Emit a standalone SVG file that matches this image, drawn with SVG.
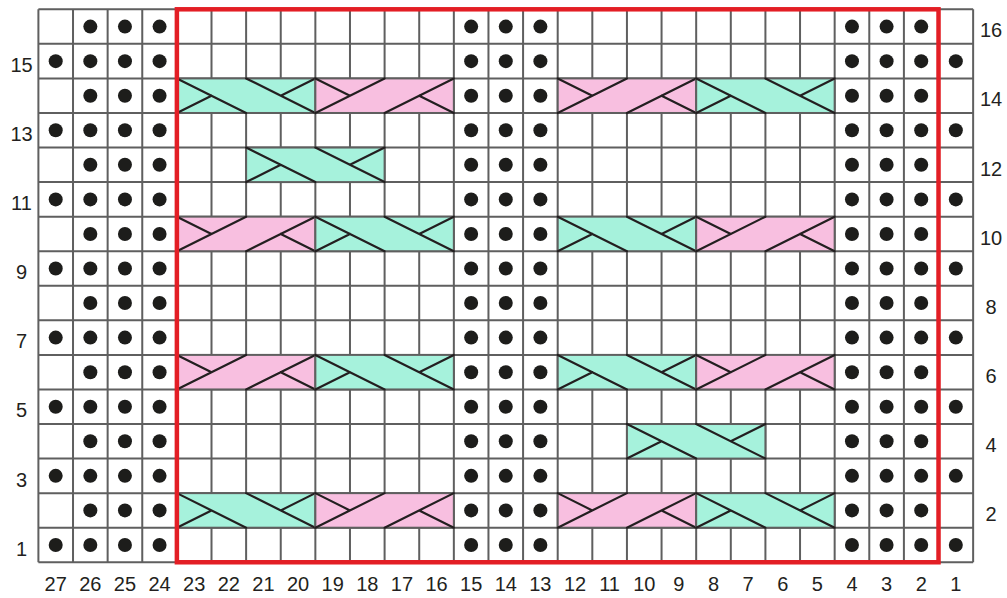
<svg xmlns="http://www.w3.org/2000/svg" xmlns:xlink="http://www.w3.org/1999/xlink" width="1007" height="598" viewBox="0 0 1007 598">
<style>
.grid{fill:none;stroke:#5f5f5f;stroke-width:2}
.dot{fill:#1d1d1b}
.lbl{font-family:"Liberation Sans",Arial,sans-serif;font-size:20px;fill:#231f20;text-anchor:middle}
.teal{fill:#a6f2dc;stroke:#5f5f5f;stroke-width:2}
.pink{fill:#f8bfe0;stroke:#5f5f5f;stroke-width:2}
.cx{fill:none;stroke:#231f20;stroke-width:2.2;stroke-linecap:round}
.frame{fill:none;stroke:#e31e25;stroke-width:4.5}
</style>
<defs>
<g id="dotsEven">
<circle class="dot" cx="90.33" cy="0" r="7"/><circle class="dot" cx="124.95" cy="0" r="7"/><circle class="dot" cx="159.57" cy="0" r="7"/>
<circle class="dot" cx="471.15" cy="0" r="7"/><circle class="dot" cx="505.77" cy="0" r="7"/><circle class="dot" cx="540.39" cy="0" r="7"/>
<circle class="dot" cx="851.97" cy="0" r="7"/><circle class="dot" cx="886.59" cy="0" r="7"/><circle class="dot" cx="921.21" cy="0" r="7"/>
</g>
<g id="dotsOdd">
<use xlink:href="#dotsEven" href="#dotsEven"/>
<circle class="dot" cx="55.71" cy="0" r="7"/><circle class="dot" cx="955.83" cy="0" r="7"/>
</g>
<g id="cableTeal">
<rect class="teal" x="0" y="0" width="138.48" height="34.56"/>
<path class="cx" d="M0 0L69.24 34.56M0 34.56L34.62 17.28M69.24 0L138.48 34.56M138.48 0L103.86 17.28"/>
</g>
<g id="cablePink">
<rect class="pink" x="0" y="0" width="138.48" height="34.56"/>
<path class="cx" d="M0 34.56L69.24 0M0 0L34.62 17.28M69.24 34.56L138.48 0M138.48 34.56L103.86 17.28"/>
</g>
</defs>
<rect width="1007" height="598" fill="#ffffff"/>
<g id="grid">
<rect x="38.4" y="9.3" width="934.74" height="552.96" fill="#ffffff"/>
<path class="grid" d="M38.4 9.3V562.26M73.02 9.3V562.26M107.64 9.3V562.26M142.26 9.3V562.26M176.88 9.3V562.26M211.5 9.3V562.26M246.12 9.3V562.26M280.74 9.3V562.26M315.36 9.3V562.26M349.98 9.3V562.26M384.6 9.3V562.26M419.22 9.3V562.26M453.84 9.3V562.26M488.46 9.3V562.26M523.08 9.3V562.26M557.7 9.3V562.26M592.32 9.3V562.26M626.94 9.3V562.26M661.56 9.3V562.26M696.18 9.3V562.26M730.8 9.3V562.26M765.42 9.3V562.26M800.04 9.3V562.26M834.66 9.3V562.26M869.28 9.3V562.26M903.9 9.3V562.26M938.52 9.3V562.26M973.14 9.3V562.26
M38.4 9.3H973.14M38.4 43.86H973.14M38.4 78.42H973.14M38.4 112.98H973.14M38.4 147.54H973.14M38.4 182.1H973.14M38.4 216.66H973.14M38.4 251.22H973.14M38.4 285.78H973.14M38.4 320.34H973.14M38.4 354.9H973.14M38.4 389.46H973.14M38.4 424.02H973.14M38.4 458.58H973.14M38.4 493.14H973.14M38.4 527.7H973.14M38.4 562.26H973.14"/>
</g>
<g id="purls">
<use href="#dotsEven" xlink:href="#dotsEven" y="26.58"/>
<use href="#dotsOdd" xlink:href="#dotsOdd" y="61.14"/>
<use href="#dotsEven" xlink:href="#dotsEven" y="95.7"/>
<use href="#dotsOdd" xlink:href="#dotsOdd" y="130.26"/>
<use href="#dotsEven" xlink:href="#dotsEven" y="164.82"/>
<use href="#dotsOdd" xlink:href="#dotsOdd" y="199.38"/>
<use href="#dotsEven" xlink:href="#dotsEven" y="233.94"/>
<use href="#dotsOdd" xlink:href="#dotsOdd" y="268.5"/>
<use href="#dotsEven" xlink:href="#dotsEven" y="303.06"/>
<use href="#dotsOdd" xlink:href="#dotsOdd" y="337.62"/>
<use href="#dotsEven" xlink:href="#dotsEven" y="372.18"/>
<use href="#dotsOdd" xlink:href="#dotsOdd" y="406.74"/>
<use href="#dotsEven" xlink:href="#dotsEven" y="441.3"/>
<use href="#dotsOdd" xlink:href="#dotsOdd" y="475.86"/>
<use href="#dotsEven" xlink:href="#dotsEven" y="510.42"/>
<use href="#dotsOdd" xlink:href="#dotsOdd" y="544.98"/>
</g>
<g id="cables">
<use href="#cableTeal" xlink:href="#cableTeal" x="176.88" y="78.42"/>
<use href="#cablePink" xlink:href="#cablePink" x="315.36" y="78.42"/>
<use href="#cablePink" xlink:href="#cablePink" x="557.7" y="78.42"/>
<use href="#cableTeal" xlink:href="#cableTeal" x="696.18" y="78.42"/>
<use href="#cableTeal" xlink:href="#cableTeal" x="246.12" y="147.54"/>
<use href="#cablePink" xlink:href="#cablePink" x="176.88" y="216.66"/>
<use href="#cableTeal" xlink:href="#cableTeal" x="315.36" y="216.66"/>
<use href="#cableTeal" xlink:href="#cableTeal" x="557.7" y="216.66"/>
<use href="#cablePink" xlink:href="#cablePink" x="696.18" y="216.66"/>
<use href="#cablePink" xlink:href="#cablePink" x="176.88" y="354.9"/>
<use href="#cableTeal" xlink:href="#cableTeal" x="315.36" y="354.9"/>
<use href="#cableTeal" xlink:href="#cableTeal" x="557.7" y="354.9"/>
<use href="#cablePink" xlink:href="#cablePink" x="696.18" y="354.9"/>
<use href="#cableTeal" xlink:href="#cableTeal" x="626.94" y="424.02"/>
<use href="#cableTeal" xlink:href="#cableTeal" x="176.88" y="493.14"/>
<use href="#cablePink" xlink:href="#cablePink" x="315.36" y="493.14"/>
<use href="#cablePink" xlink:href="#cablePink" x="557.7" y="493.14"/>
<use href="#cableTeal" xlink:href="#cableTeal" x="696.18" y="493.14"/>
</g>
<g id="repeat-frame">
<rect class="frame" x="176.88" y="9.3" width="761.64" height="552.96"/>
</g>
<g id="row-labels-left">
<text class="lbl" x="21.5" y="71.8">15</text>
<text class="lbl" x="21.5" y="140.9">13</text>
<text class="lbl" x="21.5" y="210">11</text>
<text class="lbl" x="21.5" y="279.2">9</text>
<text class="lbl" x="21.5" y="348.3">7</text>
<text class="lbl" x="21.5" y="417.4">5</text>
<text class="lbl" x="21.5" y="486.5">3</text>
<text class="lbl" x="21.5" y="555.7">1</text>
</g>
<g id="row-labels-right">
<text class="lbl" x="991" y="37.2">16</text>
<text class="lbl" x="991" y="106.4">14</text>
<text class="lbl" x="991" y="175.5">12</text>
<text class="lbl" x="991" y="244.6">10</text>
<text class="lbl" x="991" y="313.7">8</text>
<text class="lbl" x="991" y="382.9">6</text>
<text class="lbl" x="991" y="452">4</text>
<text class="lbl" x="991" y="521.1">2</text>
</g>
<g id="col-labels">
<text class="lbl" x="55.71" y="591">27</text>
<text class="lbl" x="90.33" y="591">26</text>
<text class="lbl" x="124.95" y="591">25</text>
<text class="lbl" x="159.57" y="591">24</text>
<text class="lbl" x="194.19" y="591">23</text>
<text class="lbl" x="228.81" y="591">22</text>
<text class="lbl" x="263.43" y="591">21</text>
<text class="lbl" x="298.05" y="591">20</text>
<text class="lbl" x="332.67" y="591">19</text>
<text class="lbl" x="367.29" y="591">18</text>
<text class="lbl" x="401.91" y="591">17</text>
<text class="lbl" x="436.53" y="591">16</text>
<text class="lbl" x="471.15" y="591">15</text>
<text class="lbl" x="505.77" y="591">14</text>
<text class="lbl" x="540.39" y="591">13</text>
<text class="lbl" x="575.01" y="591">12</text>
<text class="lbl" x="609.63" y="591">11</text>
<text class="lbl" x="644.25" y="591">10</text>
<text class="lbl" x="678.87" y="591">9</text>
<text class="lbl" x="713.49" y="591">8</text>
<text class="lbl" x="748.11" y="591">7</text>
<text class="lbl" x="782.73" y="591">6</text>
<text class="lbl" x="817.35" y="591">5</text>
<text class="lbl" x="851.97" y="591">4</text>
<text class="lbl" x="886.59" y="591">3</text>
<text class="lbl" x="921.21" y="591">2</text>
<text class="lbl" x="955.83" y="591">1</text>
</g>
</svg>
